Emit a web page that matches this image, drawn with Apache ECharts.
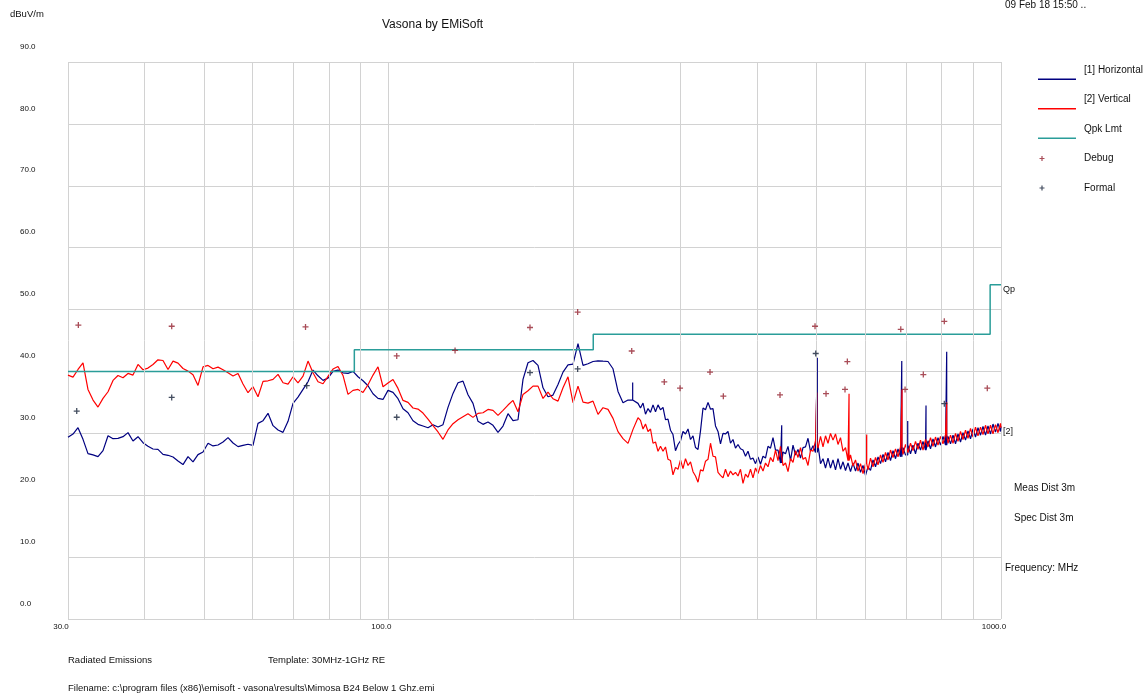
<!DOCTYPE html>
<html>
<head>
<meta charset="utf-8">
<script src="https://cdn.jsdelivr.net/npm/echarts@6/dist/echarts.min.js"></script>
<style>html,body{margin:0;padding:0;background:#fff;}#c{width:1146px;height:696px;}</style>
</head>
<body>
<div id="c"></div>
<script>
// Frequency sweep points (MHz)
const freq = [
30.00,30.57,31.15,31.74,32.34,32.96,33.58,34.22,34.87,35.53,
36.20,36.89,37.59,38.30,39.03,39.77,40.52,41.29,42.07,42.87,
43.69,44.52,45.36,46.22,47.10,47.99,48.90,49.83,50.78,51.74,
52.72,53.72,54.74,55.78,56.84,57.91,59.01,60.13,61.27,62.44,
63.62,64.83,66.06,67.31,68.59,69.89,71.21,72.57,73.94,75.34,
76.77,78.23,79.71,81.22,82.76,84.33,85.93,87.56,89.23,90.92,
92.64,94.40,96.19,98.01,99.87,101.77,103.70,105.67,107.67,109.71,
111.79,113.91,116.07,118.27,120.52,122.80,125.13,127.51,129.93,132.39,
134.90,137.46,140.07,142.72,145.43,148.19,151.00,153.87,156.79,159.76,
162.79,165.88,169.02,172.23,175.50,178.83,182.22,185.68,189.20,192.79,
196.45,200.18,203.97,207.85,211.79,215.81,219.90,224.07,228.32,232.66,
237.06,241.56,246.14,250.81,255.57,
257.98,260.42,262.88,265.36,267.86,270.39,272.95,275.52,278.13,
280.73,283.38,286.06,288.76,291.48,294.23,297.01,299.82,302.65,305.50,
308.41,311.32,314.26,317.23,320.22,323.24,326.30,329.38,332.49,335.63,
338.77,341.97,345.20,348.45,351.74,355.06,358.42,361.80,365.22,368.67,
372.15,375.66,379.21,382.79,386.40,390.05,393.74,397.45,401.21,404.99,
408.82,412.68,416.58,420.51,424.47,428.48,432.53,436.61,440.74,444.90,
449.10,453.34,457.62,461.94,466.30,470.70,475.15,479.63,484.16,488.74,
493.35,498.01,502.71,507.45,512.24,517.08,521.96,526.89,531.87,536.89,
541.95,547.07,552.24,557.45,562.71,568.02,573.39,578.80,584.27,589.78,
595.35,600.97,606.65,612.37,618.15,623.99,629.88,635.83,641.83,647.89,
654.0,660.17,666.41,672.70,679.05,685.46,691.93,698.46,705.06,711.72,
718.4,725.18,732.03,738.94,745.91,752.95,760.07,767.24,774.48,781.80,
789.2,796.65,804.17,811.76,819.43,827.16,834.97,842.85,850.81,858.85,
866.9,875.08,883.35,891.69,900.10,908.60,917.17,925.84,934.58,943.40,
952.3,961.29,970.37,979.53,988.78,998.1,1000
];

// [1] Horizontal (dBuV/m)
const horizontal = [
29.35,29.89,30.91,29.03,26.72,26.51,26.24,27.20,29.62,29.14,
29.19,29.46,30.11,28.76,29.46,28.49,27.90,27.47,27.42,26.61,
26.45,26.18,25.54,24.95,26.24,25.38,26.56,26.99,28.39,27.96,
28.12,28.60,29.30,28.44,27.85,28.06,28.23,28.06,31.61,32.04,
33.23,31.24,30.54,30.16,31.94,34.84,35.86,37.10,
38.33,40.22,39.30,38.55,38.92,40.00,40.22,39.78,39.68,40.00,
39.14,38.49,37.69,36.40,35.65,35.48,36.94,36.61,35.59,33.98,
33.33,32.04,31.45,31.18,30.91,31.40,31.02,31.40,34.19,36.45,
38.17,38.44,36.24,34.84,31.94,31.45,31.83,31.29,30.16,31.18,
33.17,32.04,32.20,38.71,41.40,41.77,40.97,
37.36,35.91,36.18,37.90,39.89,41.07,41.18,44.51,40.97,41.24,
41.61,41.72,41.66,41.61,40.43,36.77,34.94,35.38,35.48,34.84,
34.1,34.9,33.1,34.0,33.4,34.6,33.5,34.6,33.8,34.2,
32.2,32.3,30.5,29.8,27.2,28.2,28.8,30.3,29.9,30.7,
29.0,29.6,27.7,27.4,30.4,34.1,33.8,35.0,33.9,34.0,
31.2,30.3,28.3,30.0,29.9,30.3,28.4,29.0,27.6,28.2,
27.5,27.3,26.3,27.1,25.8,26.0,25.1,26.2,25.0,26.3,
26.0,27.9,
27.6,29.3,27.3,27.3,25.2,27.0,26.7,27.9,25.6,28.1,
26.5,27.4,26.0,27.7,27.8,29.2,27.1,28.0,26.9,28.1,
25.1,25.9,24.4,26.0,24.4,25.7,24.1,25.9,24.2,25.4,
24.0,25.2,23.8,25.2,23.9,25.2,23.7,24.8,23.2,24.6,
24.0,25.7,24.6,26.2,25.1,26.6,25.4,26.9,25.6,27.2,
25.9,27.5,26.2,27.7,26.5,28.0,26.7,28.1,26.7,28.4,
27.3,28.7,27.3,28.8,27.5,29.1,27.8,29.3,28.1,29.5,
28.1,29.5,28.3,29.7,28.3,29.9,28.6,30.1,28.9,30.4,
29.1,30.7,29.4,30.9,29.7,31.1,29.7,31.2,29.9,31.5,
30.2,31.6,30.3,31.1
];

// [2] Vertical (dBuV/m)
const vertical = [
39.41,39.09,40.32,41.40,37.10,35.38,34.25,35.65,36.72,38.55,
39.35,38.98,39.68,39.41,41.13,40.27,40.54,41.13,41.88,41.77,
40.32,41.67,41.34,40.48,40.05,39.46,37.74,40.75,40.97,40.43,
40.70,40.27,39.78,39.25,39.68,37.96,36.56,37.53,35.91,38.39,
38.49,38.71,39.52,38.17,37.96,39.14,38.17,39.25,
41.67,39.78,38.33,38.01,39.19,40.38,40.81,39.35,36.29,36.94,
37.10,36.61,37.85,39.41,40.75,37.53,38.12,38.71,37.26,35.32,
35.00,34.09,33.92,33.28,32.31,31.24,30.22,29.03,30.54,31.56,
32.20,32.69,33.17,32.58,33.23,33.33,33.87,33.71,32.90,33.71,
34.57,35.32,33.49,36.29,36.88,37.63,37.63,
35.64,36.66,35.59,35.21,37.36,39.14,34.94,37.63,35.05,34.89,
35.21,33.06,34.14,33.87,32.42,30.27,29.14,28.38,30.64,32.52,
32.1,30.7,31.5,30.3,30.7,28.4,28.6,27.1,27.9,27.1,
27.8,25.8,25.6,23.3,24.5,24.2,25.7,24.3,25.9,24.8,
25.4,23.8,23.1,22.1,24.1,23.9,25.5,25.8,28.4,26.3,
26.2,23.7,23.2,22.8,24.2,23.0,23.9,23.3,23.7,23.1,
24.2,21.9,23.4,22.9,24.2,22.8,24.4,23.5,24.8,23.9,
25.2,24.6,
26.1,25.4,27.3,25.6,27.9,24.8,25.2,23.8,25.9,25.3,
27.2,26.1,27.7,25.8,26.1,24.8,27.3,27.1,28.8,27.6,
29.5,27.8,29.6,28.4,30.0,28.9,29.9,28.2,29.3,27.1,
27.7,25.6,26.5,24.7,25.7,23.9,25.1,23.5,25.1,24.1,
26.0,24.6,26.1,24.9,26.5,25.3,26.9,25.7,27.3,26.1,
27.5,26.2,27.8,26.6,28.2,26.9,28.4,27.2,28.7,27.4,
28.9,27.3,29.0,27.8,29.3,27.9,29.4,28.1,29.5,28.3,
29.8,28.4,29.7,28.4,30.0,28.7,30.3,29.0,30.5,29.2,
30.8,29.4,31.0,29.6,31.0,29.8,31.3,29.9,31.3,29.9,
31.4,30.1,31.6,30.9
];

// Narrow emission spikes
const hSpikeFreq = [250.5, 438.6, 501.4, 688.7, 704.3, 754.4, 815.4];
const hSpikeTop  = [38.2, 31.3, 42.2, 41.7, 32.0, 34.5, 43.2];
const vSpikeFreq = [500.3, 564.9, 603.7, 689.4, 815.4];
const vSpikeTop  = [36.6, 36.4, 29.8, 37.1, 35.0];

// Qpk limit (steps)
const limitFreq = [30, 88, 88, 216, 216, 960, 960, 1000];
const limitVal  = [40, 40, 43.5, 43.5, 46, 46, 54, 54];

// Debug / Formal points
const debugFreq = [31.19,44.30,73.25,103.2,128.5,170.3,203.7,249.6,282.1,299.3,335.0,352.2,435.8,497.1,518.1,556.4,561.3,686.1,697.3,746.8,808.1,949.8];
const debugVal  = [47.5,47.3,47.2,42.5,43.4,47.1,49.6,43.3,38.3,37.3,39.9,36.0,36.2,47.3,36.4,37.1,41.6,46.8,37.1,39.5,48.1,37.3];
const formalFreq = [31.00,44.30,73.58,103.2,170.3,203.7,498.4,808.1];
const formalVal  = [33.6,35.8,37.7,32.6,39.8,40.4,42.9,34.8];

// Axis
const yMin = 0, yMax = 90, yStep = 10;
const xMin = 30, xMax = 1000;
const xGridMinor = [40,50,60,70,80,90,200,300,400,500,600,700,800,900];

function buildTrace(fs, vs, sf, st) {
  const pts = fs.map((f, i) => [f, vs[i]]);
  sf.forEach((f, j) => {
    const i = pts.findIndex(p => p[0] > f);
    const base = pts[i - 1][1];
    pts.splice(i, 0, [f, base], [f, st[j]], [f, base]);
  });
  return pts;
}
const zip = (a, b) => a.map((v, i) => [v, b[i]]);

const FONT = '"Liberation Sans", Arial, sans-serif';
const GRID = '#d2d2d2';
const C_H = '#000080', C_V = '#ff0000', C_L = '#2a9d99', C_D = '#94202e', C_F = '#152238';
const plus = 'path://M2,0H3.1V5.1H2Z M0,2H5.1V3.1H0Z';
const lineIcon = 'path://M0,18.5H38V20H0Z M41,0H41.01V0.01H41Z';
const plusIcon = 'path://M0,0H0.01V0.01H0Z M41,20H40.99V19.99H41Z M1.5,9.4H6.5V10.6H1.5Z M3.4,7.5H4.6V12.5H3.4Z';

const chart = echarts.init(document.getElementById('c'), null, {renderer: 'canvas'});
const txt = (x, y, s, size) => ({type: 'text', left: x, top: y, style: {text: s, font: (size || 10) + 'px ' + FONT, fill: '#111'}});

chart.setOption({
  animation: false,
  backgroundColor: '#fff',
  title: {text: 'Vasona by EMiSoft', left: 377, top: 14, textStyle: {fontFamily: FONT, fontSize: 12, fontWeight: 'normal', color: '#111'}},
  grid: {left: 68, top: 62, width: 933, height: 557, containLabel: false},
  legend: {
    orient: 'vertical', left: 1033, top: 55, itemWidth: 41, itemHeight: 20, itemGap: 9.5,
    selectedMode: false, textStyle: {fontFamily: FONT, fontSize: 10, color: '#111'},
    itemStyle: {borderWidth: 0},
    data: [
      {name: '[1] Horizontal', icon: lineIcon, itemStyle: {color: C_H, borderWidth: 0}},
      {name: '[2] Vertical', icon: lineIcon, itemStyle: {color: C_V, borderWidth: 0}},
      {name: 'Qpk Lmt', icon: lineIcon, itemStyle: {color: C_L, borderWidth: 0}},
      {name: 'Debug', icon: plusIcon, itemStyle: {color: C_D, borderWidth: 0}},
      {name: 'Formal', icon: plusIcon, itemStyle: {color: C_F, borderWidth: 0}}
    ]
  },
  xAxis: {
    type: 'log', logBase: 10, min: xMin, max: xMax,
    axisLine: {show: false}, axisTick: {show: false},
    splitLine: {show: true, lineStyle: {color: GRID, width: 1}},
    axisLabel: {show: true, margin: 4, fontSize: 8, color: '#111', fontFamily: FONT, padding: [0, 14, 0, 0],
      showMinLabel: true, showMaxLabel: true, formatter: v => Number(v).toFixed(1)}
  },
  yAxis: {
    type: 'value', min: yMin, max: yMax, interval: yStep,
    axisLine: {show: false}, axisTick: {show: false},
    splitLine: {show: true, lineStyle: {color: GRID, width: 1}},
    axisLabel: {align: 'left', margin: 48, fontSize: 8, color: '#111', fontFamily: FONT,
      verticalAlign: 'bottom', lineHeight: 31, formatter: v => Number(v).toFixed(1)}
  },
  series: [
    {type: 'line', name: 'grid', data: [], silent: true, z: 1,
     markLine: {silent: true, symbol: 'none', label: {show: false}, animation: false,
       lineStyle: {color: GRID, width: 1, type: 'solid'},
       data: xGridMinor.map(v => ({xAxis: v}))}},
    {type: 'line', name: '[1] Horizontal', data: buildTrace(freq, horizontal, hSpikeFreq, hSpikeTop),
     showSymbol: false, symbol: 'none', lineStyle: {color: C_H, width: 1.2}, itemStyle: {color: C_H}, z: 2},
    {type: 'line', name: '[2] Vertical', data: buildTrace(freq, vertical, vSpikeFreq, vSpikeTop),
     showSymbol: false, symbol: 'none', lineStyle: {color: C_V, width: 1.2}, itemStyle: {color: C_V}, z: 3},
    {type: 'line', name: 'Qpk Lmt', data: zip(limitFreq, limitVal),
     showSymbol: false, symbol: 'none', lineStyle: {color: C_L, width: 1.5}, itemStyle: {color: C_L}, z: 4},
    {type: 'scatter', name: 'Debug', data: zip(debugFreq, debugVal), symbol: plus, symbolSize: 6,
     itemStyle: {color: C_D}, z: 5},
    {type: 'scatter', name: 'Formal', data: zip(formalFreq, formalVal), symbol: plus, symbolSize: 6,
     itemStyle: {color: C_F}, z: 5}
  ],
  graphic: [
    txt(10, 9, 'dBuV/m', 9.5),
    txt(1005, 0, '09 Feb 18 15:50 ..', 10),
    txt(1003, 285, 'Qp', 9),
    txt(1003, 427, '[2]', 9),
    txt(1014, 483, 'Meas Dist 3m', 10),
    txt(1014, 513, 'Spec Dist 3m', 10),
    txt(1005, 563, 'Frequency: MHz', 10),
    txt(68, 655, 'Radiated Emissions', 9.5),
    txt(268, 655, 'Template: 30MHz-1GHz RE', 9.5),
    txt(68, 683, 'Filename: c:\\program files (x86)\\emisoft - vasona\\results\\Mimosa B24 Below 1 Ghz.emi', 9.5)
  ]
});
</script>
</body>
</html>
